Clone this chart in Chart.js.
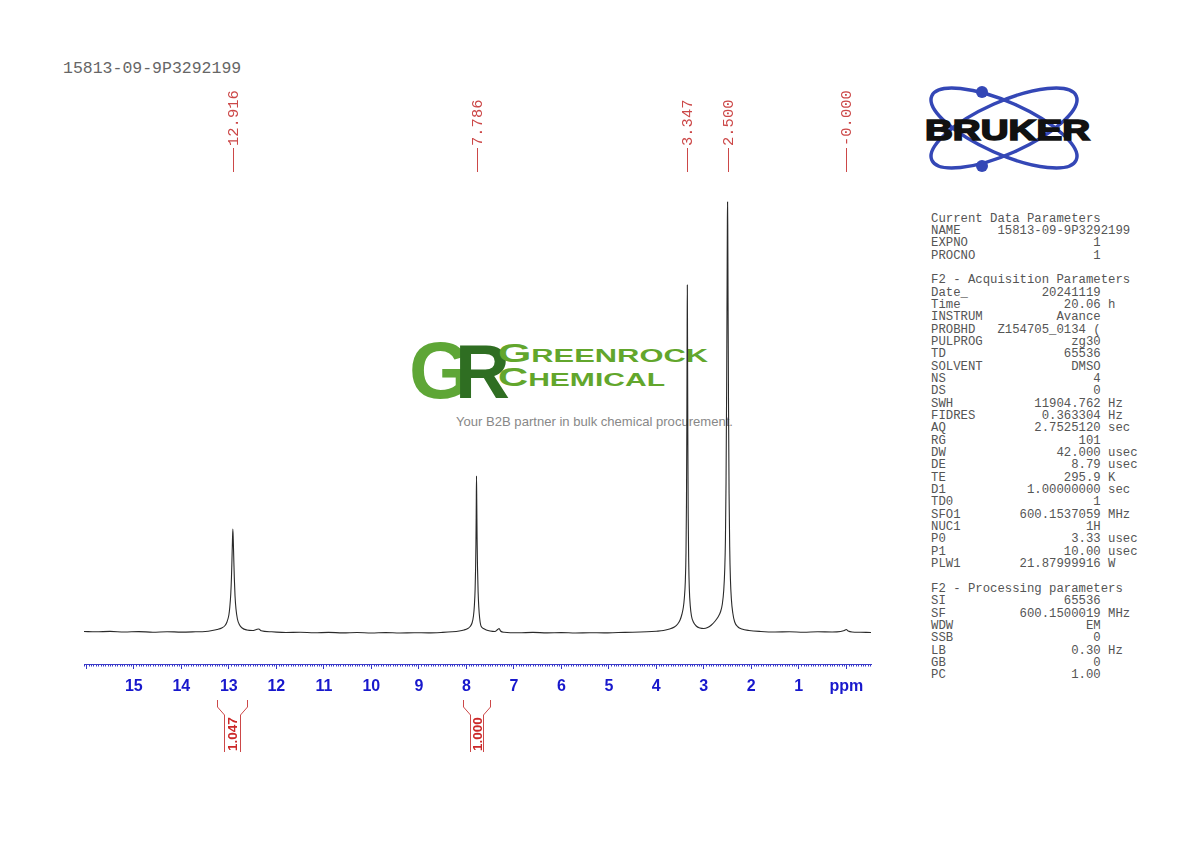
<!DOCTYPE html>
<html>
<head>
<meta charset="utf-8">
<script src="https://cdn.jsdelivr.net/npm/chart.js@4.4.1/dist/chart.umd.min.js"></script>
<style>
  body { margin: 0; background: #fff; }
  #page { position: relative; width: 1190px; height: 842px; overflow: hidden; }
  #deco { position: absolute; left: 0; top: 0; }
  #mycanvas { position: absolute; left: 0; top: 0; }
  #params {
    position: absolute; left: 931px; top: 212.5px; margin: 0;
    font-family: "Liberation Mono", monospace; font-size: 12.3px; line-height: 12.35px;
    color: #555;
  }
</style>
</head>
<body>
<div id="page">
  <svg id="deco" width="1190" height="842">
    <text x="63" y="73" font-family="Liberation Mono" font-size="16.5" fill="#666">15813-09-9P3292199</text>

    <!-- bruker logo -->
    <g fill="none" stroke="#3447b6" stroke-width="3.5">
      <ellipse cx="1004" cy="128" rx="79" ry="26" transform="rotate(24 1004 128)"/>
      <ellipse cx="1004" cy="128" rx="79" ry="26" transform="rotate(-24 1004 128)"/>
    </g>
    <circle cx="982" cy="92" r="6" fill="#3447b6"/>
    <circle cx="982" cy="166" r="6" fill="#3447b6"/>
    <text x="925" y="140" font-family="Liberation Sans" font-weight="bold" font-size="29" fill="#111"
          stroke="#111" stroke-width="1.6" textLength="165" lengthAdjust="spacingAndGlyphs">BRUKER</text>

    <!-- greenrock watermark -->
    <text x="409" y="398" font-family="Liberation Sans" font-weight="bold" font-size="80" fill="#5ea636">G</text>
    <text x="455" y="398" font-family="Liberation Sans" font-weight="bold" font-size="76" fill="#2f6e22">R</text>
    <text x="498" y="362" font-family="Liberation Sans" font-weight="bold" font-size="18" fill="#62a62c" textLength="210" lengthAdjust="spacingAndGlyphs"><tspan font-size="25">G</tspan>REENROCK</text>
    <text x="498" y="386" font-family="Liberation Sans" font-weight="bold" font-size="18" fill="#62a62c" textLength="167" lengthAdjust="spacingAndGlyphs"><tspan font-size="25">C</tspan>HEMICAL</text>
    <text x="456" y="426" font-family="Liberation Sans" font-size="13" fill="#888" textLength="277" lengthAdjust="spacingAndGlyphs">Your B2B partner in bulk chemical procurement.</text>
  </svg>
  <pre id="params"></pre>
  <canvas id="mycanvas" width="1190" height="842"></canvas>
</div>
<script>
// spectrum, ppm and height above baseline
var specPpm = [16.05, 15.8, 15.5, 15.2, 14.9, 14.6, 14.3, 14.0, 13.7, 13.5, 13.35, 13.25, 13.15, 13.08, 13.04,
  13.0, 12.98, 12.96, 12.945, 12.935, 12.925, 12.916, 12.907, 12.897, 12.885, 12.87, 12.85, 12.82, 12.78, 12.72,
  12.62, 12.5, 12.42, 12.37, 12.32, 12.1, 11.8, 11.5, 11.2, 10.9, 10.6, 10.3, 10.0, 9.7, 9.4, 9.1, 8.8, 8.5, 8.3,
  8.15, 8.05, 7.97, 7.92, 7.88, 7.85, 7.83, 7.815, 7.805, 7.798, 7.792, 7.786, 7.78, 7.774, 7.765, 7.752, 7.738,
  7.72, 7.70, 7.68, 7.64, 7.58, 7.50, 7.40, 7.34, 7.31, 7.28, 7.2, 6.9, 6.6, 6.3, 6.0, 5.7, 5.4, 5.1, 4.8, 4.5,
  4.2, 4.0, 3.85, 3.72, 3.62, 3.55, 3.50, 3.46, 3.43, 3.41, 3.39, 3.375, 3.365, 3.357, 3.351, 3.347, 3.343, 3.337,
  3.329, 3.318, 3.305, 3.285, 3.26, 3.22, 3.16, 3.08, 3.0, 2.92, 2.84, 2.76, 2.70, 2.65, 2.61, 2.58, 2.56, 2.545,
  2.532, 2.52, 2.51, 2.504, 2.5, 2.496, 2.49, 2.48, 2.468, 2.455, 2.44, 2.42, 2.39, 2.35, 2.28, 2.2, 2.05, 1.8,
  1.5, 1.2, 0.9, 0.6, 0.3, 0.12, 0.04, 0.0, -0.04, -0.12, -0.3, -0.52];
var specInt = [0.5, 0.2, 0.6, 0.0, 0.4, -0.2, 0.3, -0.1, 0.2, 0.5, 1.5, 2.5, 4, 6.5, 10,
  17, 25, 38, 55, 72, 90, 103, 92, 74, 54, 36, 23, 13, 7.5, 4,
  2, 1.5, 2.5, 3, 1.2, 0.2, -0.5, -0.3, -0.8, -0.4, -0.9, -0.5, -1.0, -0.6, -1.0, -0.7, -0.9, -0.4, 0.2,
  1, 2, 3.5, 5.5, 9, 16, 27, 43, 64, 88, 120, 156, 127, 95, 65, 40, 25,
  14, 7.5, 5, 3.5, 2, 1, 0.5, 2.5, 3.5, 1, -0.3, -0.8, -0.4, -0.9, -0.6, -1.0, -0.7, -0.9, -0.5, -0.3,
  0.2, 0.8, 1.5, 3, 5, 8, 12, 18, 25, 34, 50, 80, 130, 210, 305, 347, 295, 200,
  118, 70, 43, 26, 16, 10, 6, 4, 3.5, 4.5, 7, 11, 15, 20, 28, 42, 62, 92,
  150, 240, 345, 412, 430, 408, 335, 228, 138, 85, 53, 33, 19, 10, 5, 3, 1.5, 0.5,
  0, 0.3, -0.2, 0.2, 0, 0.5, 1.5, 2.5, 1, 0, -0.3, -0.5];

// picked peaks
var peakPpm = [12.916, 7.786, 3.347, 2.500, 0.000];
var peakLabels = ['12.916', '7.786', '3.347', '2.500', '-0.000'];

// integrals
var intFrom = [13.26, 8.07];
var intTo = [12.61, 7.50];
var intValues = ['1.047', '1.000'];

// axis
var xTickValues = [15, 14, 13, 12, 11, 10, 9, 8, 7, 6, 5, 4, 3, 2, 1, 0];
var xTickLabels = ['15', '14', '13', '12', '11', '10', '9', '8', '7', '6', '5', '4', '3', '2', '1', 'ppm'];

// parameter table
var currentParams = [['NAME', '15813-09-9P3292199', ''], ['EXPNO', '1', ''], ['PROCNO', '1', '']];
var acqParams = [
  ['Date_', '20241119', ''], ['Time', '20.06', 'h'], ['INSTRUM', 'Avance', ''], ['PROBHD', 'Z154705_0134 (', ''],
  ['PULPROG', 'zg30', ''], ['TD', '65536', ''], ['SOLVENT', 'DMSO', ''], ['NS', '4', ''], ['DS', '0', ''],
  ['SWH', '11904.762', 'Hz'], ['FIDRES', '0.363304', 'Hz'], ['AQ', '2.7525120', 'sec'], ['RG', '101', ''],
  ['DW', '42.000', 'usec'], ['DE', '8.79', 'usec'], ['TE', '295.9', 'K'], ['D1', '1.00000000', 'sec'],
  ['TD0', '1', ''], ['SFO1', '600.1537059', 'MHz'], ['NUC1', '1H', ''], ['P0', '3.33', 'usec'],
  ['P1', '10.00', 'usec'], ['PLW1', '21.87999916', 'W']];
var procParams = [['SI', '65536', ''], ['SF', '600.1500019', 'MHz'], ['WDW', 'EM', ''], ['SSB', '0', ''],
  ['LB', '0.30', 'Hz'], ['GB', '0', ''], ['PC', '1.00', '']];

function fmt(rows) {
  var out = [];
  for (var i = 0; i < rows.length; i++) {
    out.push(rows[i][0].padEnd(9) + rows[i][1].padStart(14) + (rows[i][2] ? ' ' + rows[i][2] : ''));
  }
  return out.join('\n');
}
document.getElementById('params').textContent =
  'Current Data Parameters\n' + fmt(currentParams) + '\n\n' +
  'F2 - Acquisition Parameters\n' + fmt(acqParams) + '\n\n' +
  'F2 - Processing parameters\n' + fmt(procParams);

var points = [];
for (var i = 0; i < specPpm.length; i++) {
  points.push({ x: specPpm[i], y: specInt[i] });
}

var blue = '#3a3ac8';
var red = '#cc4848';

var nmrDecor = {
  id: 'nmrDecor',
  afterDraw: function(chart) {
    var ctx = chart.ctx;
    var xs = chart.scales.x;
    var area = chart.chartArea;
    ctx.save();

    // minor ticks every 0.05 ppm
    ctx.strokeStyle = blue;
    ctx.lineWidth = 1;
    ctx.beginPath();
    for (var k = -10; k <= 321; k++) {
      if (k % 20 === 0) continue;
      var v = k * 0.05;
      if (v < xs.min || v > xs.max) continue;
      var px = Math.round(xs.getPixelForValue(v)) + 0.5;
      ctx.moveTo(px, area.bottom);
      ctx.lineTo(px, area.bottom + 2.5);
    }
    ctx.stroke();

    // peak labels
    ctx.fillStyle = red;
    ctx.strokeStyle = red;
    ctx.font = '15.5px "Liberation Mono"';
    ctx.textAlign = 'left';
    ctx.textBaseline = 'middle';
    for (var p = 0; p < peakPpm.length; p++) {
      var x = Math.round(xs.getPixelForValue(peakPpm[p])) + 0.5;
      ctx.beginPath();
      ctx.moveTo(x, 148);
      ctx.lineTo(x, 172);
      ctx.stroke();
      ctx.save();
      ctx.translate(x, 146);
      ctx.rotate(-Math.PI / 2);
      ctx.fillText(peakLabels[p], 0, 0);
      ctx.restore();
    }

    // integrals
    ctx.fillStyle = '#cc2828';
    ctx.font = 'bold 13.5px "Liberation Sans"';
    for (var n = 0; n < intFrom.length; n++) {
      var x1 = Math.round(xs.getPixelForValue(intFrom[n])) + 0.5;
      var x2 = Math.round(xs.getPixelForValue(intTo[n])) + 0.5;
      ctx.beginPath();
      ctx.moveTo(x1, 700); ctx.lineTo(x1, 707); ctx.lineTo(x1 + 7, 715); ctx.lineTo(x1 + 7, 752);
      ctx.moveTo(x2, 700); ctx.lineTo(x2, 707); ctx.lineTo(x2 - 7, 715); ctx.lineTo(x2 - 7, 752);
      ctx.stroke();
      ctx.save();
      ctx.translate((x1 + x2) / 2 + 1, 751);
      ctx.rotate(-Math.PI / 2);
      ctx.fillText(intValues[n], 0, 0);
      ctx.restore();
    }
    ctx.restore();
  }
};

var ctx = document.getElementById('mycanvas');
var spectrum = new Chart(ctx, {
  type: 'line',
  data: {
    datasets: [{
      data: points,
      borderColor: '#2a2a2a',
      borderWidth: 1.1,
      pointRadius: 0,
      cubicInterpolationMode: 'monotone',
      fill: false
    }]
  },
  options: {
    responsive: false,
    animation: false,
    layout: { padding: { left: 84, right: 319, top: 190, bottom: 138 } },
    plugins: { legend: { display: false }, tooltip: { enabled: false } },
    scales: {
      x: {
        type: 'linear',
        reverse: true,
        min: -0.52,
        max: 16.05,
        afterFit: function(scale) { scale.height = 40; },
        border: { color: blue, width: 1 },
        grid: { drawOnChartArea: false, drawTicks: true, tickLength: 5, color: blue },
        ticks: {
          stepSize: 1,
          includeBounds: false,
          autoSkip: false,
          maxRotation: 0,
          padding: 8,
          color: '#1818cc',
          font: { family: 'Liberation Sans', size: 16, weight: 'bold' },
          callback: function(value) {
            var i = xTickValues.indexOf(Math.round(value));
            return i < 0 ? '' : xTickLabels[i];
          }
        }
      },
      y: { display: false, min: -32, max: 442 }
    }
  },
  plugins: [nmrDecor]
});
</script>
</body>
</html>
